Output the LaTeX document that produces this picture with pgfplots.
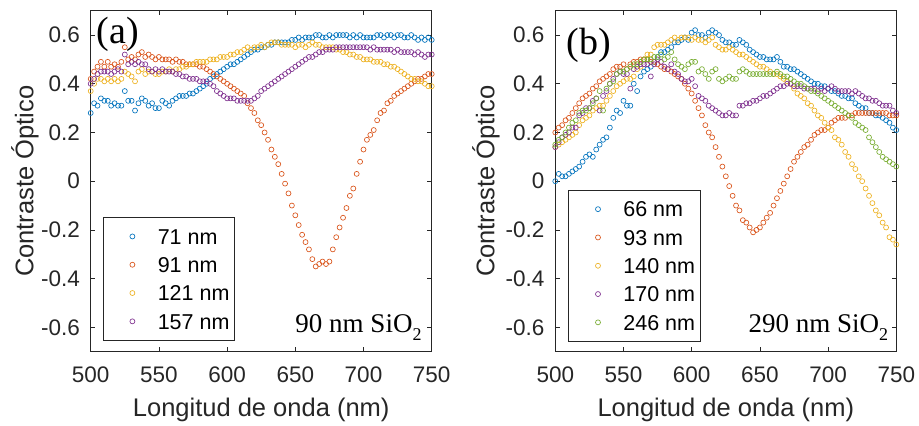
\documentclass[border=0pt]{standalone}
\usepackage{pgfplots}
\pgfplotsset{compat=1.18}
\usepackage{pgfplotstable}
\usepackage{fontspec}
\setmainfont{Liberation Sans}
\newfontfamily\tnr{Liberation Serif}

\definecolor{axgray}{RGB}{38,38,38}
\definecolor{mblue}{rgb}{0,0.447,0.741}
\definecolor{morange}{rgb}{0.850,0.325,0.098}
\definecolor{myellow}{rgb}{0.929,0.694,0.125}
\definecolor{mpurple}{rgb}{0.494,0.184,0.556}
\definecolor{mgreen}{rgb}{0.466,0.674,0.188}

% panel (a): 90 nm SiO2
\pgfplotstableread{
x     s71   s91   s121  s157
500   0.28  0.42  0.37  0.40
502.5 0.32  0.45  0.40  0.42
505   0.31  0.47  0.42  0.44
507.5 0.34  0.49  0.42  0.45
510   0.33  0.47  0.41  0.45
512.5 0.33  0.49  0.42  0.45
515   0.31  0.47  0.41  0.44
517.5 0.32  0.48  0.42  0.45
520   0.31  0.47  0.41  0.46
522.5 0.31  0.49  0.42  0.45
525   0.37  0.55  0.45  0.52
527.5 0.33  0.50  0.44  0.48
530   0.33  0.51  0.43  0.49
532.5 0.29  0.50  0.41  0.48
535   0.32  0.52  0.45  0.49
537.5 0.34  0.53  0.46  0.48
540   0.33  0.51  0.44  0.48
542.5 0.31  0.52  0.45  0.46
545   0.32  0.51  0.45  0.45
547.5 0.30  0.50  0.44  0.46
550   0.30  0.51  0.44  0.45
552.5 0.33  0.50  0.45  0.46
555   0.32  0.50  0.45  0.45
557.5 0.31  0.50  0.46  0.45
560   0.33  0.49  0.45  0.45
562.5 0.34  0.50  0.46  0.44
565   0.35  0.49  0.46  0.44
567.5 0.35  0.49  0.47  0.43
570   0.35  0.48  0.47  0.43
572.5 0.36  0.48  0.48  0.42
575   0.36  0.48  0.48  0.42
577.5 0.37  0.48  0.49  0.42
580   0.38  0.47  0.49  0.41
582.5 0.39  0.47  0.49  0.41
585   0.40  0.46  0.49  0.41
587.5 0.42  0.45  0.50  0.40
590   0.43  0.44  0.50  0.39
592.5 0.44  0.43  0.50  0.37
595   0.45  0.42  0.51  0.36
597.5 0.46  0.41  0.51  0.35
600   0.47  0.40  0.51  0.34
602.5 0.48  0.39  0.52  0.34
605   0.48  0.38  0.52  0.34
607.5 0.49  0.37  0.53  0.33
610   0.50  0.36  0.53  0.33
612.5 0.51  0.35  0.54  0.33
615   0.52  0.32  0.55  0.33
617.5 0.53  0.30  0.54  0.33
620   0.54  0.28  0.55  0.34
622.5 0.54  0.25  0.55  0.35
625   0.55  0.23  0.56  0.37
627.5 0.55  0.20  0.55  0.38
630   0.56  0.17  0.56  0.39
632.5 0.56  0.13  0.57  0.40
635   0.57  0.10  0.57  0.41
637.5 0.57  0.07  0.57  0.42
640   0.57  0.03  0.56  0.43
642.5 0.57 -0.01  0.56  0.44
645   0.57 -0.05  0.56  0.45
647.5 0.58 -0.10  0.56  0.46
650   0.58 -0.14  0.55  0.47
652.5 0.59 -0.18  0.56  0.48
655   0.58 -0.22  0.56  0.49
657.5 0.59 -0.25  0.55  0.50
660   0.59 -0.28  0.56  0.51
662.5 0.59 -0.32  0.57  0.51
665   0.60 -0.35  0.56  0.52
667.5 0.60 -0.34  0.56  0.53
670   0.59 -0.33  0.55  0.53
672.5 0.59 -0.34  0.55  0.54
675   0.60 -0.33  0.55  0.54
677.5 0.59 -0.28  0.55  0.54
680   0.60 -0.23  0.54  0.55
682.5 0.60 -0.19  0.54  0.55
685   0.60 -0.15  0.53  0.55
687.5 0.60 -0.11  0.53  0.55
690   0.59 -0.06  0.52  0.55
692.5 0.60 -0.03  0.52  0.55
695   0.59  0.03  0.51  0.55
697.5 0.60  0.08  0.51  0.55
700   0.59  0.13  0.50  0.55
702.5 0.59  0.17  0.50  0.55
705   0.59  0.19  0.50  0.54
707.5 0.59  0.21  0.49  0.55
710   0.60  0.25  0.49  0.54
712.5 0.60  0.28  0.49  0.54
715   0.59  0.29  0.48  0.54
717.5 0.60  0.32  0.48  0.54
720   0.60  0.33  0.47  0.54
722.5 0.59  0.35  0.47  0.53
725   0.60  0.36  0.46  0.54
727.5 0.60  0.37  0.45  0.53
730   0.59  0.38  0.44  0.53
732.5 0.59  0.39  0.43  0.53
735   0.60  0.40  0.42  0.53
737.5 0.59  0.41  0.42  0.52
740   0.58  0.42  0.41  0.53
742.5 0.59  0.42  0.41  0.52
745   0.58  0.43  0.40  0.51
747.5 0.59  0.44  0.39  0.52
750   0.58  0.44  0.39  0.52
}\tableA

% panel (b): 290 nm SiO2
\pgfplotstableread{
x     s66   s93   s140  s170  s246
500   0.00  0.20  0.14  0.14  0.15
502.5 0.03  0.22  0.15  0.16  0.17
505   0.02  0.23  0.16  0.18  0.18
507.5 0.02  0.25  0.17  0.19  0.20
510   0.03  0.26  0.18  0.20  0.22
512.5 0.04  0.28  0.19  0.22  0.24
515   0.05  0.30  0.20  0.22  0.25
517.5 0.06  0.32  0.23  0.27  0.28
520   0.08  0.34  0.25  0.28  0.29
522.5 0.10  0.35  0.26  0.30  0.29
525   0.11  0.36  0.27  0.30  0.30
527.5 0.10  0.38  0.29  0.33  0.32
530   0.13  0.39  0.30  0.34  0.34
532.5 0.15  0.41  0.31  0.29  0.37
535   0.17  0.42  0.31  0.35  0.29
537.5 0.18  0.43  0.33  0.37  0.38
540   0.22  0.44  0.35  0.40  0.40
542.5 0.26  0.46  0.37  0.42  0.41
545   0.29  0.47  0.39  0.44  0.44
547.5 0.28  0.47  0.40  0.45  0.45
550   0.33  0.48  0.41  0.44  0.45
552.5 0.31  0.46  0.42  0.44  0.46
555   0.31  0.48  0.42  0.38  0.47
557.5 0.40  0.49  0.43  0.46  0.48
560   0.37  0.49  0.46  0.47  0.48
562.5 0.43  0.50  0.47  0.48  0.49
565   0.45  0.50  0.50  0.48  0.50
567.5 0.46  0.50  0.52  0.48  0.50
570   0.47  0.49  0.52  0.43  0.50
572.5 0.49  0.49  0.55  0.48  0.51
575   0.51  0.48  0.56  0.50  0.51
577.5 0.53  0.47  0.56  0.49  0.52
580   0.53  0.46  0.56  0.47  0.50
582.5 0.54  0.46  0.57  0.46  0.51
585   0.55  0.45  0.58  0.48  0.53
587.5 0.57  0.44  0.59  0.45  0.50
590   0.57  0.43  0.58  0.44  0.48
592.5 0.58  0.42  0.59  0.42  0.47
595   0.59  0.40  0.59  0.41  0.46
597.5 0.58  0.38  0.59  0.41  0.48
600   0.61  0.36  0.58  0.42  0.49
602.5 0.62  0.33  0.59  0.39  0.49
605   0.60  0.30  0.58  0.35  0.45
607.5 0.60  0.27  0.58  0.34  0.46
610   0.59  0.23  0.57  0.33  0.44
612.5 0.61  0.20  0.58  0.31  0.42
615   0.62  0.18  0.59  0.30  0.45
617.5 0.61  0.14  0.56  0.29  0.46
620   0.60  0.10  0.55  0.28  0.42
622.5 0.58  0.06  0.54  0.27  0.41
625   0.57  0.02  0.54  0.27  0.42
627.5 0.57 -0.02  0.55  0.28  0.43
630   0.56 -0.06  0.54  0.27  0.42
632.5 0.56 -0.10  0.53  0.27  0.42
635   0.58 -0.12  0.52  0.31  0.45
637.5 0.57 -0.16  0.52  0.31  0.46
640   0.56 -0.17  0.51  0.32  0.45
642.5 0.54 -0.19  0.50  0.32  0.44
645   0.53 -0.21  0.49  0.33  0.44
647.5 0.52 -0.20  0.48  0.33  0.44
650   0.51 -0.19  0.47  0.34  0.44
652.5 0.51 -0.17  0.47  0.35  0.44
655   0.50 -0.15  0.46  0.35  0.44
657.5 0.50 -0.13  0.45  0.36  0.44
660   0.50 -0.10  0.44  0.37  0.44
662.5 0.51 -0.07  0.44  0.38  0.45
665   0.49 -0.04  0.43  0.39  0.44
667.5 0.47 -0.01  0.42  0.39  0.43
670   0.47  0.02  0.41  0.40  0.43
672.5 0.46  0.05  0.40  0.40  0.42
675   0.46  0.08  0.38  0.39  0.41
677.5 0.45  0.10  0.36  0.39  0.40
680   0.44  0.12  0.35  0.39  0.40
682.5 0.43  0.14  0.34  0.38  0.39
685   0.42  0.15  0.32  0.38  0.38
687.5 0.41  0.17  0.31  0.38  0.37
690   0.40  0.19  0.29  0.38  0.37
692.5 0.40  0.20  0.27  0.37  0.36
695   0.39  0.21  0.26  0.38  0.35
697.5 0.39  0.21  0.24  0.37  0.34
700   0.38  0.22  0.22  0.38  0.33
702.5 0.37  0.24  0.21  0.39  0.32
705   0.37  0.25  0.18  0.38  0.31
707.5 0.36  0.26  0.17  0.37  0.30
710   0.35  0.26  0.15  0.37  0.29
712.5 0.35  0.26  0.12  0.37  0.28
715   0.34  0.27  0.10  0.37  0.27
717.5 0.34  0.27  0.07  0.36  0.26
720   0.32  0.28  0.05  0.37  0.24
722.5 0.31  0.28  0.02  0.36  0.23
725   0.30  0.28  0.00  0.35  0.22
727.5 0.30  0.28 -0.03  0.34  0.21
730   0.28  0.28 -0.06  0.34  0.18
732.5 0.28  0.28 -0.09  0.33  0.16
735   0.27  0.28 -0.12  0.33  0.14
737.5 0.27  0.28 -0.14  0.32  0.12
740   0.26  0.28 -0.17  0.31  0.10
742.5 0.25  0.28 -0.19  0.31  0.09
745   0.24  0.27 -0.23  0.31  0.08
747.5 0.22  0.27 -0.24  0.29  0.07
750   0.21  0.27 -0.26  0.28  0.06
}\tableB

\pgfplotsset{
  panel/.style={
    scale only axis, width=341pt, height=341pt,
    xmin=500, xmax=750, ymin=-0.7, ymax=0.7,
    xtick={500,550,600,650,700,750},
    ytick={-0.6,-0.4,-0.2,0,0.2,0.4,0.6},
    tick align=inside, major tick length=4.5pt,
    axis line style={draw=axgray, line width=0.8pt},
    every tick/.style={draw=axgray, line width=0.8pt},
    /pgf/number format/assume math mode=true,
    /pgf/number format/1000 sep={},
    ticklabel style={font=\fontsize{22.5}{26}\selectfont, text=axgray, inner sep=0pt},
    xticklabel style={anchor=center, yshift=-23.3pt},
    yticklabel style={anchor=east, xshift=-10.7pt},
    label style={font=\fontsize{25.5}{30}\selectfont, text=axgray},
    xlabel={Longitud de onda (nm)},
    ylabel={Contraste Óptico},
    xlabel style={at={(axis description cs:0.5,-0.171)}, anchor=center},
    clip=false,
    legend cell align=left,
    legend image code/.code={
      \draw[##1] plot coordinates {(0pt,0pt)};
      \path (-24pt,0pt) (8pt,0pt);
    },
    legend style={anchor=north west, draw=axgray, line width=0.7pt, fill=white,
      inner xsep=5pt, inner ysep=9pt, row sep=8.8pt, column sep=17pt,
      font=\fontsize{21.5}{24}\selectfont,
      nodes={inner sep=0pt, text height=17.5pt, text depth=2pt}},
  },
  dots/.style={only marks, mark=o, mark size=2.5pt,
    mark options={line width=0.65pt, draw=#1}, color=#1},
}

\begin{document}
\begin{tikzpicture}[x=1pt, y=1pt]
\path (0,0) rectangle (919,422);

\begin{axis}[panel, at={(90.7pt,70.3pt)},
  ylabel style={at={(axis description cs:-0.1927,0.5)}, anchor=center},
  legend style={at={(axis description cs:0.0352,0.394)}}]
\addplot[dots=mblue] table[x=x, y=s71] {\tableA};
\addplot[dots=morange] table[x=x, y=s91] {\tableA};
\addplot[dots=myellow] table[x=x, y=s121] {\tableA};
\addplot[dots=mpurple] table[x=x, y=s157] {\tableA};
\legend{71 nm, 91 nm, 121 nm, 157 nm}
\node[anchor=west, inner sep=0pt, font=\tnr\fontsize{38}{40}\selectfont, text=black]
  at (rel axis cs:0.0176,0.932) {(a)};
\node[anchor=base east, inner sep=0pt, font=\tnr\fontsize{27}{30}\selectfont, text=black]
  at (rel axis cs:0.9707,0.0557) {90 nm SiO\raisebox{-0.28em}{\fontsize{18}{20}\selectfont 2}};
\end{axis}

\begin{axis}[panel, at={(555.3pt,70.3pt)},
  ylabel style={at={(axis description cs:-0.2032,0.5)}, anchor=center},
  legend style={at={(axis description cs:0.0381,0.474)}}]
\addplot[dots=mblue] table[x=x, y=s66] {\tableB};
\addplot[dots=morange] table[x=x, y=s93] {\tableB};
\addplot[dots=myellow] table[x=x, y=s140] {\tableB};
\addplot[dots=mpurple] table[x=x, y=s170] {\tableB};
\addplot[dots=mgreen] table[x=x, y=s246] {\tableB};
\legend{66 nm, 93 nm, 140 nm, 170 nm, 246 nm}
\node[anchor=west, inner sep=0pt, font=\tnr\fontsize{38}{40}\selectfont, text=black]
  at (rel axis cs:0.0334,0.899) {(b)};
\node[anchor=base east, inner sep=0pt, font=\tnr\fontsize{27}{30}\selectfont, text=black]
  at (rel axis cs:0.9765,0.0557) {290 nm SiO\raisebox{-0.28em}{\fontsize{18}{20}\selectfont 2}};
\end{axis}
\end{tikzpicture}
\end{document}
